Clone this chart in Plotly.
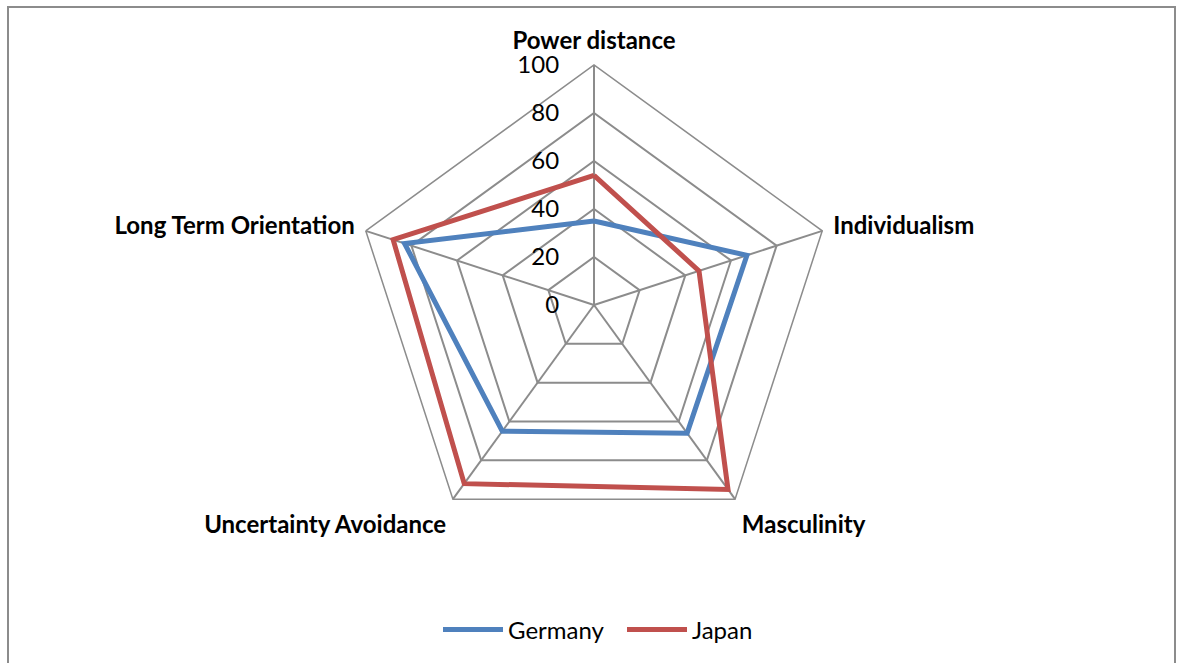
import plotly.graph_objects as go

categories = ["Power distance", "Individualism", "Masculinity", "Uncertainty Avoidance", "Long Term Orientation"]
germany = [35, 67, 66, 65, 83]
japan = [54, 46, 95, 92, 88]
radial_ticks = [0, 20, 40, 60, 80, 100]

W, H = 1181, 663
cx, cy, R = 594, 305, 240

fig = go.Figure()
for name, vals, color in [("Germany", germany, "#4F81BD"), ("Japan", japan, "#C0504D")]:
    fig.add_trace(go.Scatterpolar(
        r=vals + vals[:1], theta=categories + categories[:1], mode="lines", name=name,
        line=dict(color=color, width=5)))

fig.update_layout(
    width=W, height=H, paper_bgcolor="white", plot_bgcolor="white",
    margin=dict(l=0, r=0, t=0, b=0),
    font=dict(family="Lato, Open Sans, sans-serif", size=24, color="black"),
    polar=dict(
        domain=dict(x=[(cx - R) / W, (cx + R) / W], y=[(H - cy - R) / H, (H - cy + R) / H]),
        gridshape="linear", bgcolor="white",
        radialaxis=dict(range=[0, 100], tickvals=radial_ticks, angle=90, tickangle=90,
                        showline=False, gridcolor="#8C8C8C", gridwidth=1.5,
                        ticks="outside", ticklen=26, tickcolor="rgba(0,0,0,0)",
                        tickfont=dict(size=24), side="counterclockwise"),
        angularaxis=dict(direction="clockwise", rotation=90, gridcolor="#8C8C8C", gridwidth=1.5,
                         linecolor="#8C8C8C", linewidth=1.5, ticks="outside", ticklen=6,
                         tickcolor="rgba(0,0,0,0)",
                         tickfont=dict(size=24, family="Lato, sans-serif", weight="bold")),
    ),
    legend=dict(orientation="h", x=438 / W, xanchor="left", y=(H - 630) / H, yanchor="middle",
                font=dict(size=24), itemwidth=60, entrywidth=109, entrywidthmode="pixels"),
    shapes=[dict(type="rect", xref="paper", yref="paper", x0=8 / W, x1=1175 / W, y0=-0.05, y1=(H - 7) / H,
                 line=dict(color="#8C8C8C", width=2))],
)
fig.write_html("out.html", post_script="document.body.style.margin='0';",
               config={"displayModeBar": False})
